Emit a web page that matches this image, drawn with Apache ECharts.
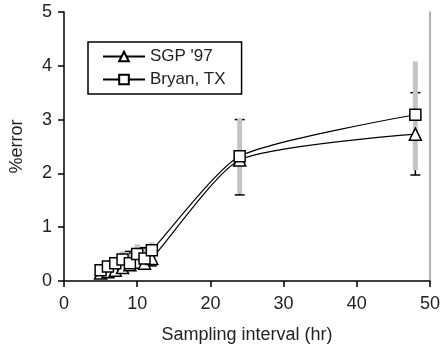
<!DOCTYPE html>
<html>
<head>
<meta charset="utf-8">
<script src="https://cdn.jsdelivr.net/npm/echarts@6/dist/echarts.min.js"></script>
<style>
  html, body { margin: 0; padding: 0; background: #fff; }
  #chart { width: 443px; height: 356px; }
</style>
</head>
<body>
<div id="chart"></div>
<script>
// sampling intervals (hr)
const hours = [5, 6, 7, 8, 9, 10, 11, 12, 24, 48];

// SGP '97 (triangles) with black error bars
const sgpError = [0.15, 0.17, 0.2, 0.25, 0.3, 0.35, 0.33, 0.42, 2.25, 2.73];
const sgpLow = [0.08, 0.1, 0.12, 0.15, 0.2, 0.25, 0.22, 0.28, 1.6, 1.97];
const sgpHigh = [0.22, 0.25, 0.3, 0.38, 0.55, 0.5, 0.62, 0.6, 3.0, 3.5];

// Bryan, TX (squares) with grey error bars
const bryanError = [0.2, 0.27, 0.33, 0.4, 0.33, 0.5, 0.42, 0.57, 2.32, 3.09];
const bryanLow = [0.12, 0.18, 0.22, 0.28, 0.2, 0.36, 0.3, 0.45, 1.62, 2.06];
const bryanHigh = [0.28, 0.36, 0.45, 0.55, 0.5, 0.68, 0.6, 0.72, 3.02, 4.08];

const xTicks = [0, 10, 20, 30, 40, 50];
const yTicks = [0, 1, 2, 3, 4, 5];

const font = 'Liberation Sans, Arial, sans-serif';

const pairs = (ys) => hours.map((h, i) => [h, ys[i]]);
const bars = (lo, hi) => hours.map((h, i) => [h, lo[i], hi[i]]);

const chart = echarts.init(document.getElementById('chart'));

chart.setOption({
  animation: false,
  grid: { left: 60, right: 10, top: 12, bottom: 75 },
  legend: {
    left: 88,
    top: 42,
    orient: 'vertical',
    padding: [6, 16, 6, 14],
    itemGap: 6,
    itemWidth: 42,
    itemHeight: 12,
    borderColor: '#000',
    borderWidth: 1.5,
    textStyle: { fontFamily: font, fontSize: 17, color: '#222' },
    data: ["SGP '97", 'Bryan, TX'],
  },
  xAxis: {
    type: 'value',
    min: xTicks[0],
    max: xTicks[xTicks.length - 1],
    interval: 10,
    name: 'Sampling interval (hr)',
    nameLocation: 'middle',
    nameGap: 45,
    nameTextStyle: { fontFamily: font, fontSize: 18, color: '#222' },
    axisLine: { lineStyle: { color: '#000', width: 1.5 } },
    axisTick: { length: 6, lineStyle: { color: '#000', width: 1.5 } },
    axisLabel: { fontFamily: font, fontSize: 18, color: '#222', margin: 14 },
    splitLine: { show: false },
  },
  yAxis: [
    {
      type: 'value',
      min: yTicks[0],
      max: yTicks[yTicks.length - 1],
      interval: 1,
      name: '%error',
      nameLocation: 'middle',
      nameRotate: 90,
      nameGap: 38,
      nameTextStyle: { fontFamily: font, fontSize: 18, color: '#222' },
      axisLine: { show: true, lineStyle: { color: '#000', width: 1.5 } },
      axisTick: { show: true, length: 6, lineStyle: { color: '#000', width: 1.5 } },
      axisLabel: { fontFamily: font, fontSize: 18, color: '#222', margin: 12 },
      splitLine: { show: false },
    },
    {
      type: 'value',
      position: 'right',
      min: 0,
      max: 5,
      interval: 1,
      axisLine: { show: true, lineStyle: { color: '#999', width: 1.5 } },
      axisTick: { show: false },
      axisLabel: { show: false },
      splitLine: { show: false },
    },
  ],
  series: [
    {
      name: 'sgpBars',
      type: 'custom',
      z: 1,
      data: bars(sgpLow, sgpHigh),
      renderItem: (params, api) => {
        const x = api.value(0);
        const lo = api.coord([x, api.value(1)]);
        const hi = api.coord([x, api.value(2)]);
        const cap = 5;
        const style = { stroke: '#000', lineWidth: 1.5 };
        return {
          type: 'group',
          children: [
            { type: 'line', shape: { x1: lo[0], y1: lo[1], x2: hi[0], y2: hi[1] }, style },
            { type: 'line', shape: { x1: lo[0] - cap, y1: lo[1], x2: lo[0] + cap, y2: lo[1] }, style },
            { type: 'line', shape: { x1: hi[0] - cap, y1: hi[1], x2: hi[0] + cap, y2: hi[1] }, style },
          ],
        };
      },
    },
    {
      name: 'bryanBars',
      type: 'custom',
      z: 2,
      data: bars(bryanLow, bryanHigh),
      renderItem: (params, api) => {
        const x = api.value(0);
        const lo = api.coord([x, api.value(1)]);
        const hi = api.coord([x, api.value(2)]);
        return {
          type: 'line',
          shape: { x1: lo[0], y1: lo[1], x2: hi[0], y2: hi[1] },
          style: { stroke: '#c4c4c4', lineWidth: 5 },
        };
      },
    },
    {
      name: "SGP '97",
      type: 'line',
      z: 3,
      smooth: 0.2,
      data: pairs(sgpError),
      symbol: 'triangle',
      symbolSize: 12,
      itemStyle: { color: '#fff', borderColor: '#000', borderWidth: 1.5 },
      lineStyle: { color: '#000', width: 1.2 },
    },
    {
      name: 'Bryan, TX',
      type: 'line',
      z: 4,
      smooth: 0.2,
      data: pairs(bryanError),
      symbol: 'rect',
      symbolSize: 11,
      itemStyle: { color: '#fff', borderColor: '#000', borderWidth: 1.5 },
      lineStyle: { color: '#000', width: 1.2 },
    },
  ],
});
</script>
</body>
</html>
